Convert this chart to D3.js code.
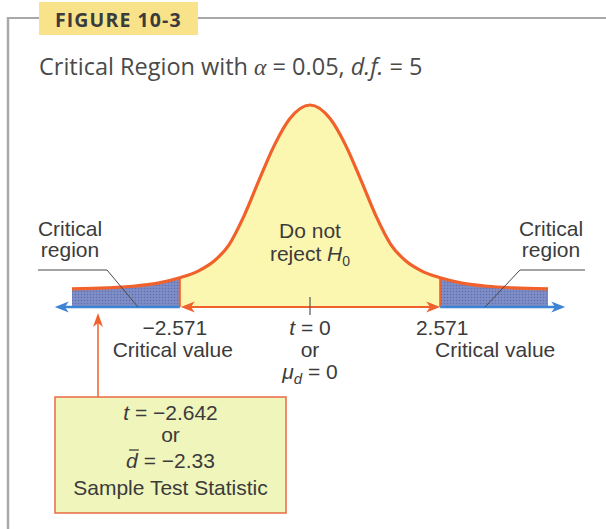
<!DOCTYPE html>
<html>
<head>
<meta charset="utf-8">
<script src="https://cdn.jsdelivr.net/npm/d3@7"></script>
<style>
  body { margin: 0; background: #ffffff; }
  svg { display: block; }
</style>
</head>
<body>
<svg id="chart" width="606" height="529"></svg>
<script>
// t values along the horizontal axis and the drawn height of the density curve at each
const tGrid   = [-4.7, -4.0, -3.5, -3.0, -2.571, -2.2, -1.9, -1.6, -1.3, -1.0, -0.7, -0.4, 0,
                  0.4, 0.7, 1.0, 1.3, 1.6, 1.9, 2.2, 2.571, 3.0, 3.5, 4.0, 4.7];
const density = [0.034, 0.036, 0.039, 0.045, 0.055, 0.068, 0.086, 0.117, 0.172, 0.240, 0.305, 0.354, 0.380,
                  0.354, 0.305, 0.240, 0.172, 0.117, 0.086, 0.068, 0.055, 0.045, 0.039, 0.036, 0.034];

// critical values for alpha = 0.05, d.f. = 5 (two-tailed)
const criticalValues = [-2.571, 2.571];
const criticalLabels = ["\u22122.571", "2.571"];
const axisExtent = [-5.04, 5.04];
const sampleT = "\u22122.642";
const sampleDbar = "\u22122.33";

const svg = d3.select("#chart");

const C_TEXT = "#3b3b3b";
const C_ORANGE = "#f0612b";
const C_BLUE = "#3d84d4";
const C_YELLOW = "#fcf7b0";
const C_REGION = "#7788c3";
const SANS = "'Liberation Sans', Arial, sans-serif";
const HUMANIST = "'Open Sans', 'Noto Sans', sans-serif";

const x = d3.scaleLinear().domain([-4.7, 4.7]).range([72, 548]);
const y = d3.scaleLinear().domain([0, 0.38]).range([307, 105]);

const pts = tGrid.map((t, i) => ({ t, d: density[i] }));

// ---------- frame and figure label ----------
svg.append("line").attr("x1", 8).attr("x2", 8).attr("y1", 17).attr("y2", 529)
  .attr("stroke", "#a9a9a9").attr("stroke-width", 2.5);
svg.append("line").attr("x1", 7).attr("x2", 606).attr("y1", 18).attr("y2", 18)
  .attr("stroke", "#a9a9a9").attr("stroke-width", 2);
svg.append("rect").attr("x", 39).attr("y", 2).attr("width", 159).attr("height", 33)
  .attr("fill", "#f9e38a");
svg.append("text").attr("x", 55).attr("y", 27)
  .attr("font-family", HUMANIST).attr("font-weight", 700).attr("font-size", 19.5)
  .attr("fill", C_TEXT).attr("letter-spacing", 1.1)
  .text("FIGURE 10-3");

// ---------- title ----------
const title = svg.append("text").attr("x", 39).attr("y", 75)
  .attr("font-family", HUMANIST).attr("font-size", 23.5).attr("fill", "#4a4a4a");
title.append("tspan").text("Critical Region with ");
title.append("tspan").attr("font-family", "'Liberation Serif', serif").attr("font-style", "italic").text("\u03b1");
title.append("tspan").text(" = 0.05, ");
title.append("tspan").attr("font-style", "italic").text("d.f.");
title.append("tspan").text(" = 5");

// ---------- fills ----------
const defs = svg.append("defs");
const pat = defs.append("pattern").attr("id", "dots").attr("patternUnits", "userSpaceOnUse")
  .attr("width", 3).attr("height", 3);
pat.append("rect").attr("width", 3).attr("height", 3).attr("fill", C_REGION);
pat.append("rect").attr("x", 0).attr("y", 0).attr("width", 1).attr("height", 1).attr("fill", "#5f6fae");
pat.append("rect").attr("x", 1.5).attr("y", 1.5).attr("width", 1).attr("height", 1).attr("fill", "#95a1d2");

const regions = [
  { id: "tailL", from: -4.7, to: criticalValues[0], fill: "url(#dots)" },
  { id: "mid", from: criticalValues[0], to: criticalValues[1], fill: C_YELLOW },
  { id: "tailR", from: criticalValues[1], to: 4.7, fill: "url(#dots)" }
];
regions.forEach(r => {
  defs.append("clipPath").attr("id", "clip-" + r.id).append("rect")
    .attr("x", x(r.from)).attr("y", 0).attr("width", x(r.to) - x(r.from)).attr("height", 529);
});

const area = d3.area().x(p => x(p.t)).y0(y(0)).y1(p => y(p.d)).curve(d3.curveMonotoneX);
const curve = d3.line().x(p => x(p.t)).y(p => y(p.d)).curve(d3.curveMonotoneX);

regions.forEach(r => {
  svg.append("path").attr("d", area(pts)).attr("fill", r.fill)
    .attr("clip-path", `url(#clip-${r.id})`);
});

// boundaries of the critical regions
criticalValues.forEach(cv => {
  const j = tGrid.indexOf(cv);
  svg.append("line").attr("x1", x(cv)).attr("x2", x(cv))
    .attr("y1", y(0)).attr("y2", y(density[j]))
    .attr("stroke", C_ORANGE).attr("stroke-width", 2);
});

svg.append("path").attr("d", curve(pts)).attr("fill", "none")
  .attr("stroke", C_ORANGE).attr("stroke-width", 3.2).attr("stroke-linejoin", "round");

// ---------- axis ----------
function arrowHead(tipX, tipY, dir, color, L = 14, W = 5.5) {
  const shape = [[0, 0], [-L, -W], [-L * 0.72, 0], [-L, W]];
  const ang = { right: 0, left: 180, up: -90, down: 90 }[dir];
  svg.append("path")
    .attr("d", "M" + shape.map(p => p.join(",")).join("L") + "Z")
    .attr("transform", `translate(${tipX},${tipY}) rotate(${ang})`)
    .attr("fill", color);
}

const y0 = y(0);
svg.append("line").attr("x1", x(axisExtent[0]) + 6).attr("x2", x(criticalValues[0]))
  .attr("y1", y0).attr("y2", y0).attr("stroke", C_BLUE).attr("stroke-width", 2.5);
svg.append("line").attr("x1", x(criticalValues[1])).attr("x2", x(axisExtent[1]) - 6)
  .attr("y1", y0).attr("y2", y0).attr("stroke", C_BLUE).attr("stroke-width", 2.5);
svg.append("line").attr("x1", x(criticalValues[0]) + 6).attr("x2", x(criticalValues[1]) - 6)
  .attr("y1", y0).attr("y2", y0).attr("stroke", C_ORANGE).attr("stroke-width", 2.2);
arrowHead(x(axisExtent[0]), y0, "left", C_BLUE);
arrowHead(x(axisExtent[1]), y0, "right", C_BLUE);
arrowHead(x(criticalValues[0]) + 1, y0, "left", C_ORANGE);
arrowHead(x(criticalValues[1]), y0, "right", C_ORANGE);

// tick at t = 0
svg.append("line").attr("x1", x(0)).attr("x2", x(0)).attr("y1", y0 - 10).attr("y2", y0 + 8)
  .attr("stroke", "#555").attr("stroke-width", 1.2);

// ---------- labels ----------
function label(xp, yp, str, anchor = "middle") {
  return svg.append("text").attr("x", xp).attr("y", yp).attr("text-anchor", anchor)
    .attr("font-family", SANS).attr("font-size", 21).attr("fill", C_TEXT).text(str);
}

// critical region call-outs
label(70, 236, "Critical");
label(70, 257, "region");
label(551, 236, "Critical");
label(551, 257, "region");
svg.append("polyline").attr("points", "38,270 107,270 138,307")
  .attr("fill", "none").attr("stroke", "#4a4a4a").attr("stroke-width", 1);
svg.append("polyline").attr("points", "585,270 520,270 485,307")
  .attr("fill", "none").attr("stroke", "#4a4a4a").attr("stroke-width", 1);

// centre text
label(x(0), 238, "Do not");
const rej = label(x(0), 261, "reject ");
rej.append("tspan").attr("font-style", "italic").text("H");
rej.append("tspan").attr("font-size", 14).attr("dy", 5).text("0");

// values under the axis
label(x(criticalValues[0]) - 5, 335, criticalLabels[0]);
label(x(criticalValues[0]) - 7, 357, "Critical value");
label(x(criticalValues[1]) + 2, 335, criticalLabels[1]);
label(x(criticalValues[1]) + 55, 357, "Critical value");

const tz = label(x(0), 335, "");
tz.append("tspan").attr("font-style", "italic").text("t");
tz.append("tspan").text(" = 0");
label(x(0), 357, "or");
const mz = label(x(0), 379, "");
mz.append("tspan").attr("font-style", "italic").text("\u03bc");
mz.append("tspan").attr("font-style", "italic").attr("font-size", 15).attr("dy", 5).text("d");
mz.append("tspan").attr("dy", -5).text(" = 0");

// ---------- sample test statistic box ----------
const box = { x: 55, y: 397, w: 231, h: 116 };
svg.append("line").attr("x1", 98).attr("x2", 98).attr("y1", box.y).attr("y2", 322)
  .attr("stroke", C_ORANGE).attr("stroke-width", 1.5);
arrowHead(98, 313, "up", C_ORANGE, 14, 5);
svg.append("rect").attr("x", box.x).attr("y", box.y).attr("width", box.w).attr("height", box.h)
  .attr("fill", "#eff5bb").attr("stroke", "#ea6a45").attr("stroke-width", 1.5);

const cx = box.x + box.w / 2;
const ts = label(cx, 420, "");
ts.append("tspan").attr("font-style", "italic").text("t");
ts.append("tspan").text(" = " + sampleT);
label(cx, 442, "or");
const ds = label(cx, 468, "");
ds.append("tspan").attr("font-style", "italic").text("d");
ds.append("tspan").text(" = " + sampleDbar);
// bar over d
const dBox = ds.node().getExtentOfChar(0);
svg.append("line").attr("x1", dBox.x + 3).attr("x2", dBox.x + dBox.width + 1)
  .attr("y1", dBox.y + 1).attr("y2", dBox.y + 1)
  .attr("stroke", C_TEXT).attr("stroke-width", 1.3);
label(cx, 495, "Sample Test Statistic");
</script>
</body>
</html>
